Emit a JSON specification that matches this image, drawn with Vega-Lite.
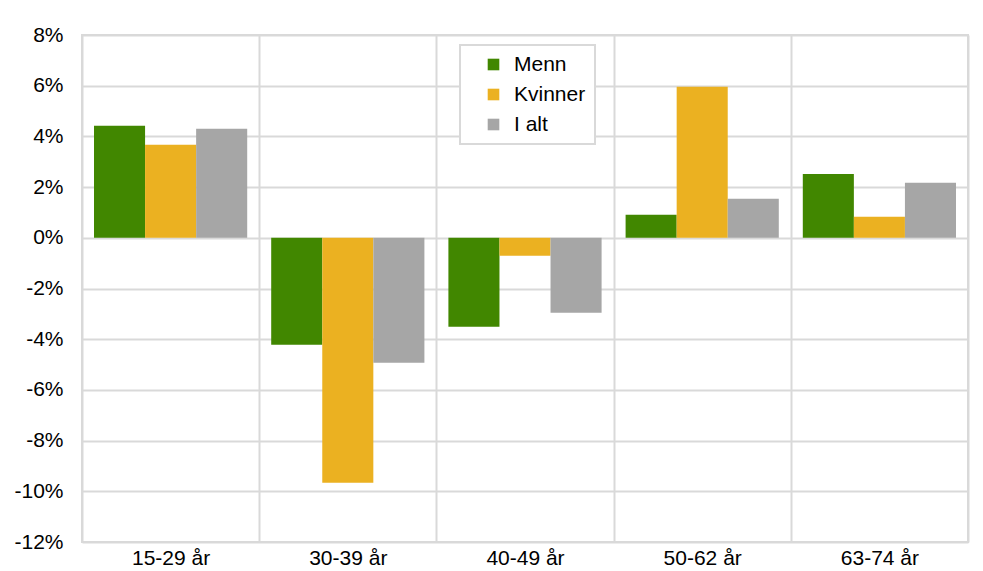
{
  "$schema": "https://vega.github.io/schema/vega-lite/v6.json",
  "width": 886,
  "height": 507,
  "autosize": {"type": "none"},
  "padding": {"left": 82, "top": 35, "right": 15, "bottom": 29},
  "background": "white",
  "config": {
    "font": "Liberation Sans",
    "view": {"stroke": "#d9d9d9", "strokeWidth": 2},
    "axis": {"labelFont": "Liberation Sans", "labelFontSize": 21, "labelColor": "#000000", "gridColor": "#d9d9d9", "gridWidth": 2, "domain": false, "ticks": false, "title": null},
    "legend": {"strokeWidth": 2}
  },
  "data": {
    "values": [
      {"alder": "15-29 år", "gruppe": "Menn", "endring": 4.42},
      {"alder": "15-29 år", "gruppe": "Kvinner", "endring": 3.67},
      {"alder": "15-29 år", "gruppe": "I alt", "endring": 4.30},
      {"alder": "30-39 år", "gruppe": "Menn", "endring": -4.22},
      {"alder": "30-39 år", "gruppe": "Kvinner", "endring": -9.66},
      {"alder": "30-39 år", "gruppe": "I alt", "endring": -4.93},
      {"alder": "40-49 år", "gruppe": "Menn", "endring": -3.51},
      {"alder": "40-49 år", "gruppe": "Kvinner", "endring": -0.71},
      {"alder": "40-49 år", "gruppe": "I alt", "endring": -2.96},
      {"alder": "50-62 år", "gruppe": "Menn", "endring": 0.91},
      {"alder": "50-62 år", "gruppe": "Kvinner", "endring": 5.96},
      {"alder": "50-62 år", "gruppe": "I alt", "endring": 1.54},
      {"alder": "63-74 år", "gruppe": "Menn", "endring": 2.52},
      {"alder": "63-74 år", "gruppe": "Kvinner", "endring": 0.83},
      {"alder": "63-74 år", "gruppe": "I alt", "endring": 2.17}
    ]
  },
  "mark": {"type": "bar", "cornerRadius": 0},
  "encoding": {
    "x": {
      "field": "alder", "type": "nominal", "sort": null,
      "scale": {"paddingInner": 0, "paddingOuter": 0},
      "axis": {"labelAngle": 0, "grid": true, "tickBand": "extent", "labelPadding": 5}
    },
    "xOffset": {"field": "gruppe", "type": "nominal", "sort": ["Menn", "Kvinner", "I alt"], "scale": {"paddingInner": 0, "paddingOuter": 0.235}},
    "y": {
      "field": "endring", "type": "quantitative",
      "scale": {"domain": [-12, 8], "nice": false, "zero": true},
      "axis": {"values": [-12, -10, -8, -6, -4, -2, 0, 2, 4, 6, 8], "labelExpr": "datum.value + '%'", "grid": true, "labelPadding": 19}
    },
    "color": {
      "field": "gruppe", "type": "nominal",
      "sort": ["Menn", "Kvinner", "I alt"],
      "scale": {"domain": ["Menn", "Kvinner", "I alt"], "range": ["#418700", "#ebb121", "#a6a6a6"]},
      "legend": {
        "title": null, "orient": "none", "legendX": 378, "legendY": 10,
        "symbolType": "square", "symbolSize": 135, "symbolStrokeWidth": 0, "symbolOffset": 14,
        "labelFontSize": 21, "labelColor": "#000000", "labelFont": "Liberation Sans",
        "rowPadding": 8, "padding": 9,
        "fillColor": "white", "strokeColor": "#d9d9d9",
        "labelOffset": 10
      }
    }
  }
}
